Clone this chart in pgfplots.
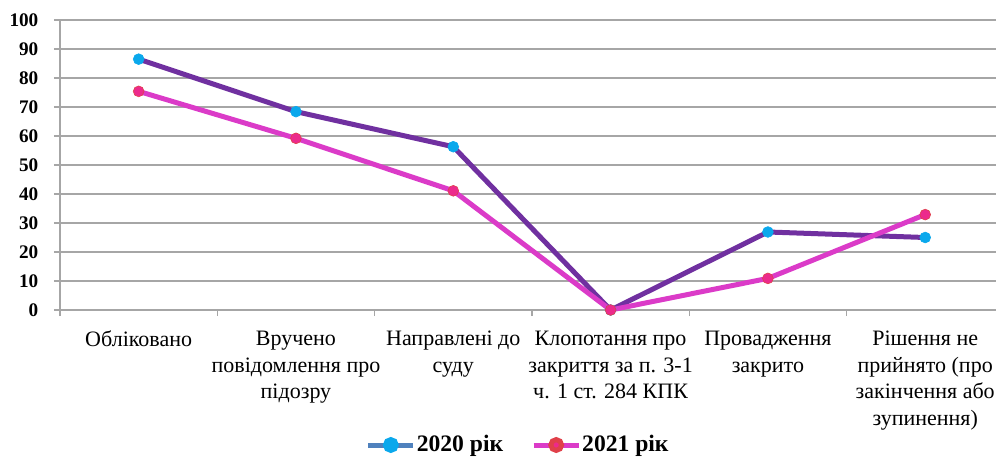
\documentclass[border=0pt]{standalone}
\usepackage{fontspec}
\setmainfont{Liberation Serif}[BoldFont={Liberation Serif Bold}, ItalicFont={Liberation Serif Italic}, BoldItalicFont={Liberation Serif Bold Italic}]
\usepackage{pgfplots}
\pgfplotsset{compat=1.18}
\definecolor{c20line}{HTML}{7030A0}
\definecolor{c20mark}{HTML}{0AA8EC}
\definecolor{c20leg}{HTML}{4F81BD}
\definecolor{c21line}{HTML}{DB3BC8}
\definecolor{c21mark}{HTML}{EC2A8C}
\definecolor{c21edge}{HTML}{E0404A}
\definecolor{gridc}{HTML}{A6A6A6}
\begin{document}
\begin{tikzpicture}
\useasboundingbox (-30pt,-73pt) rectangle (468pt,155pt);
\begin{axis}[
  scale only axis, width=468pt, height=145pt,
  xmin=-0.5, xmax=5.45, ymin=0, ymax=100,
  ytick={0,10,...,100},
  xtick={0,...,5},
  xticklabels={
    {Обліковано},
    {Вручено\\повідомлення про\\підозру},
    {Направлені до\\суду},
    {Клопотання про\\закриття за п. 3-1\\ч. 1 ст. 284 КПК},
    {Провадження\\закрито},
    {Рішення не\\прийнято (про\\закінчення або\\зупинення)}},
  minor xtick={-0.5,0.5,1.5,2.5,3.5,4.5},
  major x tick style={draw=none},
  axis x line*=bottom, axis y line*=left,
  ymajorgrids, grid style={gridc, line width=0.75pt},
  axis line style={gridc, line width=0.75pt},
  tick style={gridc, line width=0.75pt},
  tick align=outside, major tick length=3pt, minor tick length=3pt,
  xticklabel style={font=\fontsize{11}{13.3}\selectfont, align=center, anchor=north, yshift=-4pt, text=black},
  yticklabel style={font=\bfseries\fontsize{9.6}{11}\selectfont, text=black, xshift=-4.3pt},
  /pgf/number format/assume math mode=true,
  clip=false,
  legend columns=2,
  legend style={at={(0.489,-0.4655)}, anchor=center, draw=none, fill=none,
    font=\bfseries\fontsize{11.8}{13}\selectfont,
    nodes={inner sep=0.5pt},
    /tikz/every even column/.append style={column sep=13.5pt},
    inner sep=0pt},
  legend image code/.code={\draw[mark repeat=2,mark phase=2] plot coordinates {(0pt,0pt) (11.25pt,0pt) (22.5pt,0pt)};},
]
\addplot[c20line, line width=2.5pt, mark=*, mark size=2.7pt, mark options={draw=c20mark, fill=c20mark, line width=0.3pt}, forget plot]
  coordinates {(0,86.5) (1,68.4) (2,56.3) (3,0) (4,26.9) (5,25.0)};
\addplot[c21line, line width=2.5pt, mark=*, mark size=2.7pt, mark options={draw=c21edge, fill=c21mark, line width=0.3pt}, forget plot]
  coordinates {(0,75.4) (1,59.2) (2,41.1) (3,0) (4,10.9) (5,32.9)};
\addlegendimage{c20leg, line width=2.5pt, mark=*, mark size=2.7pt, mark options={draw=c20mark, fill=c20mark}}
\addlegendentry{2020 рік}
\addlegendimage{c21line, line width=2.5pt, mark=*, mark size=2.7pt, mark options={draw=c21edge, fill=c21mark}}
\addlegendentry{2021 рік}
\end{axis}
\end{tikzpicture}
\end{document}
